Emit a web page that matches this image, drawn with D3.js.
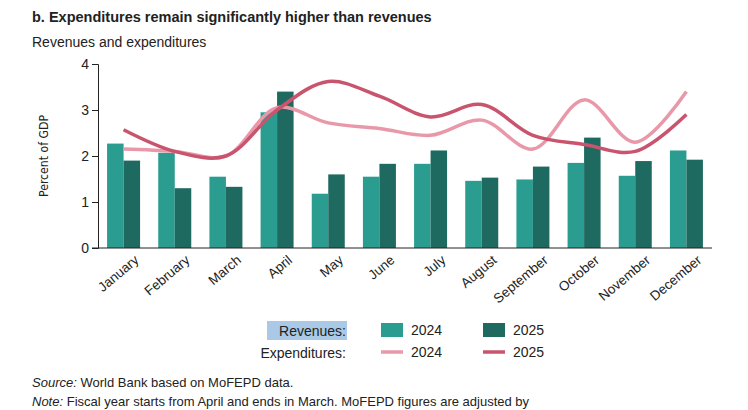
<!DOCTYPE html><html><head><meta charset="utf-8"><script src="https://cdn.jsdelivr.net/npm/d3@7"></script>
<style>body{margin:0;background:#fff;font-family:"Liberation Sans",Arial,sans-serif}</style></head><body><svg id="c" width="748" height="410"></svg>
<script>
const months=["January","February","March","April","May","June","July","August","September","October","November","December"];
const rev2024=[2.27,2.07,1.55,2.95,1.18,1.55,1.83,1.46,1.49,1.85,1.57,2.12];
const rev2025=[1.9,1.3,1.33,3.4,1.6,1.83,2.12,1.53,1.77,2.4,1.89,1.92];
const exp2024=[2.15,2.1,2.0,3.05,2.72,2.6,2.45,2.78,2.15,3.22,2.3,3.4];
const exp2025=[2.57,2.1,2.0,3.0,3.62,3.3,2.85,3.12,2.45,2.25,2.1,2.9];
const yTicks=[0,1,2,3,4];
const c={r24:"#2a9c90",r25:"#1e6a60",e24:"#e898a8",e25:"#c9546e"};
const svg=d3.select("#c");
const x=d3.scaleBand().domain(months).range([98,712]).paddingInner(0.06).paddingOuter(0.03);
const y=d3.scaleLinear().domain([0,4]).range([248,64]);
const bw=16.5;
svg.append("text").attr("x",32).attr("y",22).attr("font-size",14.5).attr("font-weight","bold").attr("fill","#222").text("b. Expenditures remain significantly higher than revenues");
svg.append("text").attr("x",32).attr("y",47).attr("font-size",14).attr("fill","#222").text("Revenues and expenditures");
const g=svg.append("g");
const cx=d=>x(d)+x.bandwidth()/2;
g.selectAll(".b1").data(months).join("rect").attr("x",d=>cx(d)-bw).attr("width",bw).attr("y",(d,i)=>y(rev2024[i])).attr("height",(d,i)=>y(0)-y(rev2024[i])).attr("fill",c.r24);
g.selectAll(".b2").data(months).join("rect").attr("x",d=>cx(d)).attr("width",bw).attr("y",(d,i)=>y(rev2025[i])).attr("height",(d,i)=>y(0)-y(rev2025[i])).attr("fill",c.r25);
const line=arr=>d3.line().x((d,i)=>cx(months[i])).y(d=>y(d)).curve(d3.curveCatmullRom.alpha(0.5))(arr);
svg.append("path").attr("d",line(exp2024)).attr("fill","none").attr("stroke",c.e24).attr("stroke-width",3.5);
svg.append("path").attr("d",line(exp2025)).attr("fill","none").attr("stroke",c.e25).attr("stroke-width",3.5);
const ya=svg.append("g").attr("transform","translate(98,0)").call(d3.axisLeft(y).tickValues(yTicks).tickSize(6).tickFormat(d3.format("d")));
ya.selectAll("text").attr("font-size",14).attr("fill","#222").attr("font-family","Liberation Sans,Arial");
ya.selectAll("line,path").attr("stroke","#222");
const xa=svg.append("g").attr("transform","translate(0,248)").call(d3.axisBottom(x).tickSize(0));
xa.select("path").attr("stroke","#222").attr("d","M92,0H712");
xa.selectAll("text").attr("font-size",13.5).attr("fill","#222").attr("text-anchor","end").attr("transform","translate(8,4) rotate(-40)").attr("dy","0.7em");
svg.append("text").attr("transform","translate(48,156) rotate(-90)").attr("text-anchor","middle").attr("font-size",13).attr("fill","#222").attr("font-family","'DejaVu Sans Condensed',sans-serif").attr("textLength",82).attr("lengthAdjust","spacingAndGlyphs").text("Percent of GDP");
svg.append("rect").attr("x",267).attr("y",321).attr("width",80).attr("height",19).attr("fill","#a9c9e6");
svg.append("text").attr("x",346).attr("y",336).attr("text-anchor","end").attr("font-size",14).attr("fill","#222").text("Revenues:");
svg.append("text").attr("x",346).attr("y",358).attr("text-anchor","end").attr("font-size",14).attr("fill","#222").text("Expenditures:");
const leg=[{t:"2024",col:c.r24,k:"r",x:381,y:330},{t:"2025",col:c.r25,k:"r",x:483,y:330},{t:"2024",col:c.e24,k:"l",x:381,y:352},{t:"2025",col:c.e25,k:"l",x:483,y:352}];
leg.forEach(l=>{
 if(l.k==="r") svg.append("rect").attr("x",l.x).attr("y",l.y-7).attr("width",22).attr("height",14).attr("fill",l.col);
 else svg.append("line").attr("x1",l.x).attr("x2",l.x+22).attr("y1",l.y).attr("y2",l.y).attr("stroke",l.col).attr("stroke-width",3.5);
 svg.append("text").attr("x",l.x+30).attr("y",l.y+5).attr("font-size",14).attr("fill","#222").text(l.t);
});
const s=svg.append("text").attr("x",32).attr("y",387).attr("font-size",13).attr("fill","#222");
s.append("tspan").attr("font-style","italic").text("Source:");s.append("tspan").text(" World Bank based on MoFEPD data.");
const n=svg.append("text").attr("x",32).attr("y",406).attr("font-size",13).attr("fill","#222");
n.append("tspan").attr("font-style","italic").text("Note:");n.append("tspan").text(" Fiscal year starts from April and ends in March. MoFEPD figures are adjusted by");
</script></body></html>
